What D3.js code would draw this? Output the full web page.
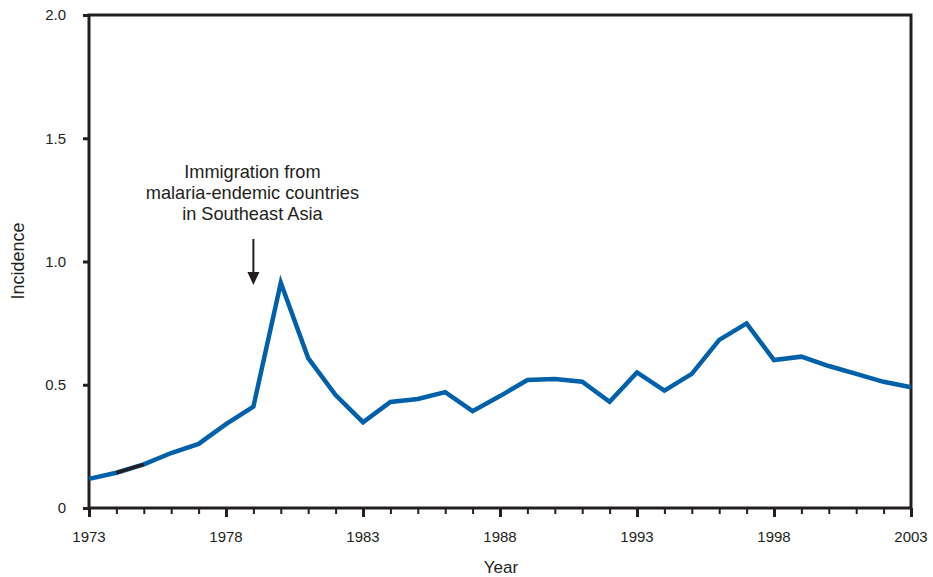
<!DOCTYPE html>
<html><head><meta charset="utf-8">
<script src="https://cdn.jsdelivr.net/npm/d3@7"></script>
<style>body{margin:0;background:#fff}svg{display:block}text{font-family:"Liberation Sans",Arial,sans-serif;fill:#231f20}</style>
</head><body><svg id="c" width="933" height="577"></svg>
<script>
const years = d3.range(1973, 2004);
const incidence = [0.118,0.143,0.177,0.223,0.26,0.34,0.411,0.914,0.608,0.458,0.348,0.43,0.442,0.47,0.393,0.454,0.519,0.523,0.512,0.431,0.55,0.476,0.544,0.682,0.749,0.6,0.614,0.576,0.544,0.512,0.49];
const xTickLabels = [1973,1978,1983,1988,1993,1998,2003];
const yTickValues = [0,0.5,1.0,1.5,2.0];
const annotationLines = ["Immigration from","malaria-endemic countries","in Southeast Asia"];
const annotationYear = 1979;

const svg = d3.select("#c");
const m = {l:89, r:911, t:15, b:508};
const x = d3.scaleLinear().domain([1973,2003]).range([m.l,m.r]);
const y = d3.scaleLinear().domain([0,2]).range([m.b,m.t]);
const ink = "#231f20";

// frame
svg.append("rect").attr("x",m.l).attr("y",m.t).attr("width",m.r-m.l).attr("height",m.b-m.t)
  .attr("fill","none").attr("stroke",ink).attr("stroke-width",3);

// x axis
const xAxis = svg.append("g").attr("transform",`translate(0,${m.b})`);
xAxis.call(d3.axisBottom(x).tickValues(years).tickSize(6).tickFormat(""));
xAxis.select(".domain").remove();
xAxis.selectAll("line").attr("stroke",ink)
  .attr("y2",d=>xTickLabels.includes(d)?9:6).attr("stroke-width",d=>xTickLabels.includes(d)?3:2);
xTickLabels.forEach(v=>{
  svg.append("text").attr("x",x(v)).attr("y",542).attr("text-anchor","middle").attr("font-size",15).text(v);
});

// y axis
const yAxis = svg.append("g").attr("transform",`translate(${m.l},0)`);
yAxis.call(d3.axisLeft(y).tickValues(yTickValues).tickSize(6).tickFormat(d=>d===0?"0":d3.format(".1f")(d)));
yAxis.select(".domain").remove();
yAxis.selectAll("line").attr("stroke",ink).attr("stroke-width",3);
yAxis.selectAll("text").attr("font-size",15).attr("x",-23).attr("fill",ink)
  .style("font-family",'"Liberation Sans",Arial,sans-serif');

// axis titles
svg.append("text").attr("x",501).attr("y",573).attr("text-anchor","middle").attr("font-size",17).text("Year");
svg.append("text").attr("transform","translate(24,261) rotate(-90)").attr("text-anchor","middle").attr("font-size",18).text("Incidence");

// line
const pts = years.map((yr,i)=>({yr, v:incidence[i]}));
const line = d3.line().x(d=>x(d.yr)).y(d=>y(d.v));
svg.append("path").datum(pts).attr("d",line).attr("fill","none")
  .attr("stroke","#0061aa").attr("stroke-width",4.5).attr("stroke-linejoin","miter");
// black segment 1974-1975
svg.append("path").datum(pts.slice(1,3)).attr("d",line).attr("fill","none")
  .attr("stroke",ink).attr("stroke-width",3.5);

// annotation
const ax = x(annotationYear);
const ann = svg.append("text").attr("text-anchor","middle").attr("font-size",18.2);
annotationLines.forEach((t,i)=>ann.append("tspan").attr("x",ax-1).attr("y",178+i*21).text(t));
svg.append("line").attr("x1",ax).attr("x2",ax).attr("y1",239).attr("y2",275).attr("stroke",ink).attr("stroke-width",2);
svg.append("path").attr("d",`M${ax-6},272 L${ax+6},272 L${ax},285 Z`).attr("fill",ink);
</script></body></html>
